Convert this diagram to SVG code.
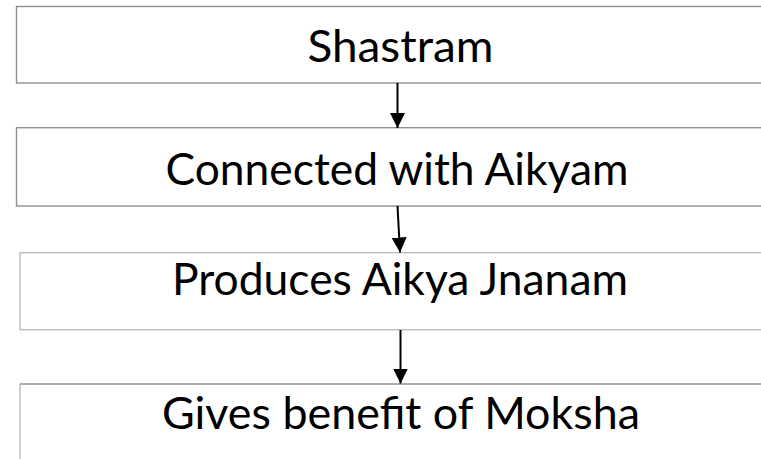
<svg xmlns="http://www.w3.org/2000/svg" width="761" height="459" viewBox="0 0 761 459">
  <style>
    .box { fill: #ffffff; stroke-width: 1.4; }
    .dark { stroke: #8f8f8f; }
    .light { stroke: #bdbdbd; }
    .label { font-family: "Lato", "Open Sans", "Liberation Sans", sans-serif; font-size: 44px; fill: #000000; text-anchor: middle; }
    .link { stroke: #000000; stroke-width: 2; fill: none; marker-end: url(#head); }
  </style>
  <defs>
    <marker id="head" markerUnits="userSpaceOnUse" markerWidth="15" markerHeight="15" refX="15" refY="7.5" orient="auto">
      <path d="M0,0 L15,7.5 L0,15 Z" fill="#000000"/>
    </marker>
  </defs>
  <rect width="761" height="459" fill="#ffffff"/>

  <g id="shastram">
    <rect class="box dark" x="16.5" y="6.5" width="800" height="76.5"/>
    <text class="label" x="400.5" y="61.5" textLength="186" lengthAdjust="spacingAndGlyphs">Shastram</text>
  </g>

  <g id="connected">
    <rect class="box dark" x="16.5" y="127.7" width="800" height="78.3"/>
    <text class="label" x="397" y="184.5" textLength="463" lengthAdjust="spacingAndGlyphs">Connected with Aikyam</text>
  </g>

  <g id="produces">
    <rect class="box light" x="20" y="252.7" width="800" height="77"/>
    <text class="label" x="400" y="294.5" textLength="456" lengthAdjust="spacingAndGlyphs">Produces Aikya Jnanam</text>
  </g>

  <g id="moksha">
    <rect class="box light" x="20" y="384" width="800" height="100"/>
    <line x1="20" y1="384" x2="761" y2="384" stroke="#a3a3a3" stroke-width="1.4"/>
    <text class="label" x="401" y="428.5" textLength="478" lengthAdjust="spacingAndGlyphs">Gives benefit of Moksha</text>
  </g>

  <g id="connectors">
    <line class="link" x1="397.5" y1="83" x2="397.5" y2="128"/>
    <line class="link" x1="397.5" y1="206" x2="400" y2="252.5"/>
    <line class="link" x1="400.5" y1="330" x2="400.5" y2="383.5"/>
  </g>
</svg>
